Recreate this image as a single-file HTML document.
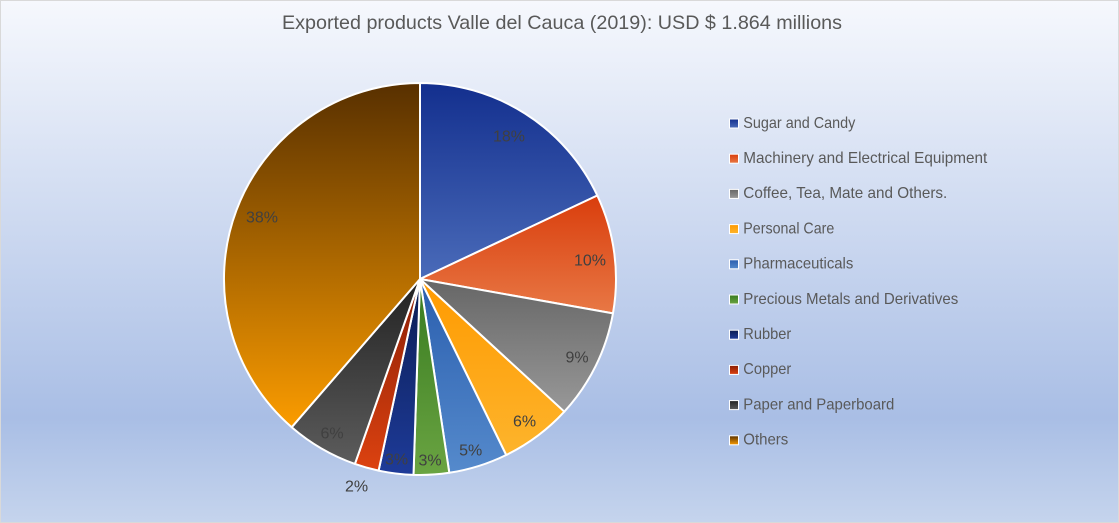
<!DOCTYPE html>
<html>
<head>
<meta charset="utf-8">
<style>
  html, body { margin:0; padding:0; width:1119px; height:523px; overflow:hidden; background:#fff; }
  svg { display:block; }
</style>
</head>
<body>
<svg width="1119" height="523" viewBox="0 0 1119 523" xmlns="http://www.w3.org/2000/svg">
  <defs>
    <linearGradient id="bg" x1="0" y1="0" x2="0" y2="1">
      <stop offset="0" stop-color="#f6f8fd"/>
      <stop offset="0.8" stop-color="#a9bee5"/>
      <stop offset="1" stop-color="#c5d4ed"/>
    </linearGradient>
    <linearGradient id="g1" x1="0" y1="0" x2="0" y2="1"><stop offset="0" stop-color="#132f8e"/><stop offset="1" stop-color="#4a6bb9"/></linearGradient>
    <linearGradient id="g2" x1="0" y1="0" x2="0" y2="1"><stop offset="0" stop-color="#d93d0c"/><stop offset="1" stop-color="#e87845"/></linearGradient>
    <linearGradient id="g3" x1="0" y1="0" x2="0" y2="1"><stop offset="0" stop-color="#666666"/><stop offset="1" stop-color="#989898"/></linearGradient>
    <linearGradient id="g4" x1="0" y1="0" x2="0" y2="1"><stop offset="0" stop-color="#ff9a00"/><stop offset="1" stop-color="#fdb42c"/></linearGradient>
    <linearGradient id="g5" x1="0" y1="0" x2="0" y2="1"><stop offset="0" stop-color="#2a5eae"/><stop offset="1" stop-color="#558acc"/></linearGradient>
    <linearGradient id="g6" x1="0" y1="0" x2="0" y2="1"><stop offset="0" stop-color="#377a1f"/><stop offset="1" stop-color="#6aa442"/></linearGradient>
    <linearGradient id="g7" x1="0" y1="0" x2="0" y2="1"><stop offset="0" stop-color="#0a1c52"/><stop offset="1" stop-color="#1e3b99"/></linearGradient>
    <linearGradient id="g8" x1="0" y1="0" x2="0" y2="1"><stop offset="0" stop-color="#8a1e05"/><stop offset="1" stop-color="#dc4210"/></linearGradient>
    <linearGradient id="g9" x1="0" y1="0" x2="0" y2="1"><stop offset="0" stop-color="#222222"/><stop offset="1" stop-color="#5c5c5c"/></linearGradient>
    <linearGradient id="g10" x1="0" y1="0" x2="0" y2="1"><stop offset="0" stop-color="#583000"/><stop offset="1" stop-color="#fb9c00"/></linearGradient>
  </defs>

  <rect x="0.5" y="0.5" width="1118" height="522" fill="url(#bg)" stroke="#d9d9d9" stroke-width="1"/>

  <text x="562" y="29" text-anchor="middle" font-family="Liberation Sans, sans-serif" font-size="19.5" fill="#595959" textLength="560" lengthAdjust="spacingAndGlyphs">Exported products Valle del Cauca (2019): USD $ 1.864 millions</text>

  <g stroke="#ffffff" stroke-width="2" stroke-linejoin="round">
    <path d="M420,279 L420,83 A196,196 0 0 1 597.3,195.5 Z" fill="url(#g1)"/>
    <path d="M420,279 L597.3,195.5 A196,196 0 0 1 612.96,313.4 Z" fill="url(#g2)"/>
    <path d="M420,279 L612.96,313.4 A196,196 0 0 1 564.3,411.7 Z" fill="url(#g3)"/>
    <path d="M420,279 L564.3,411.7 A196,196 0 0 1 506.2,455.0 Z" fill="url(#g4)"/>
    <path d="M420,279 L506.2,455.0 A196,196 0 0 1 449.3,472.8 Z" fill="url(#g5)"/>
    <path d="M420,279 L449.3,472.8 A196,196 0 0 1 413.5,474.9 Z" fill="url(#g6)"/>
    <path d="M420,279 L413.5,474.9 A196,196 0 0 1 378.6,470.6 Z" fill="url(#g7)"/>
    <path d="M420,279 L378.6,470.6 A196,196 0 0 1 354.9,463.9 Z" fill="url(#g8)"/>
    <path d="M420,279 L354.9,463.9 A196,196 0 0 1 291.7,427.2 Z" fill="url(#g9)"/>
    <path d="M420,279 L291.7,427.2 A196,196 0 0 1 420,83 Z" fill="url(#g10)"/>
  </g>

  <g font-family="Liberation Sans, sans-serif" font-size="16" fill="#404040" text-anchor="middle">
    <text x="509" y="141.7">18%</text>
    <text x="590" y="265.7">10%</text>
    <text x="577" y="362.3">9%</text>
    <text x="524.5" y="426.7">6%</text>
    <text x="470.7" y="455.7">5%</text>
    <text x="430" y="465.3">3%</text>
    <text x="396.5" y="464.5">3%</text>
    <text x="356.5" y="491.3">2%</text>
    <text x="332" y="438.3">6%</text>
    <text x="262" y="222.3">38%</text>
  </g>

  <g stroke="#ffffff" stroke-width="1">
    <rect x="729.5" y="119" width="9" height="9" fill="url(#g1)"/>
    <rect x="729.5" y="154.2" width="9" height="9" fill="url(#g2)"/>
    <rect x="729.5" y="189.4" width="9" height="9" fill="url(#g3)"/>
    <rect x="729.5" y="224.6" width="9" height="9" fill="url(#g4)"/>
    <rect x="729.5" y="259.8" width="9" height="9" fill="url(#g5)"/>
    <rect x="729.5" y="295" width="9" height="9" fill="url(#g6)"/>
    <rect x="729.5" y="330.2" width="9" height="9" fill="url(#g7)"/>
    <rect x="729.5" y="365.4" width="9" height="9" fill="url(#g8)"/>
    <rect x="729.5" y="400.6" width="9" height="9" fill="url(#g9)"/>
    <rect x="729.5" y="435.8" width="9" height="9" fill="url(#g10)"/>
  </g>

  <g font-family="Liberation Sans, sans-serif" font-size="16" fill="#595959">
    <text x="743.3" y="127.8" textLength="112" lengthAdjust="spacingAndGlyphs">Sugar and Candy</text>
    <text x="743.3" y="163" textLength="244" lengthAdjust="spacingAndGlyphs">Machinery and Electrical Equipment</text>
    <text x="743.3" y="198.2" textLength="204" lengthAdjust="spacingAndGlyphs">Coffee, Tea, Mate and Others.</text>
    <text x="743.3" y="233.4" textLength="91" lengthAdjust="spacingAndGlyphs">Personal Care</text>
    <text x="743.3" y="268.6" textLength="110" lengthAdjust="spacingAndGlyphs">Pharmaceuticals</text>
    <text x="743.3" y="303.8" textLength="215" lengthAdjust="spacingAndGlyphs">Precious Metals and Derivatives</text>
    <text x="743.3" y="339" textLength="48" lengthAdjust="spacingAndGlyphs">Rubber</text>
    <text x="743.3" y="374.2" textLength="48" lengthAdjust="spacingAndGlyphs">Copper</text>
    <text x="743.3" y="409.4" textLength="151" lengthAdjust="spacingAndGlyphs">Paper and Paperboard</text>
    <text x="743.3" y="444.6" textLength="45" lengthAdjust="spacingAndGlyphs">Others</text>
  </g>
</svg>
</body>
</html>
